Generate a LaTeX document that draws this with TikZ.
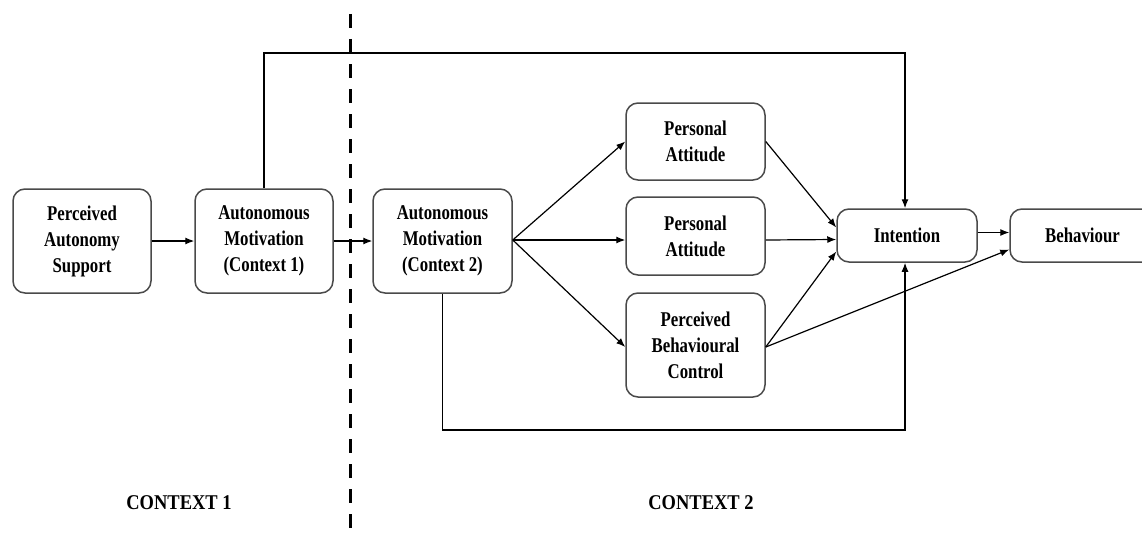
\documentclass[tikz,border=0pt]{standalone}
\usepackage{fontspec}
\usetikzlibrary{arrows.meta,calc}
\newfontfamily\boxfont{Liberation Serif}[FakeStretch=0.8]
\newfontfamily\ctxfont{Liberation Serif}[FakeStretch=0.88]
\definecolor{bordergray}{HTML}{4A4A4A}
\begin{document}
\begin{tikzpicture}[x=1pt,y=-1pt,
  box/.style={draw=bordergray, line width=1.5pt, rounded corners=12pt, align=center,
    font=\boxfont\bfseries\fontsize{21}{26}\selectfont, inner sep=0pt},
  arr/.style={draw=black, line width=1.2pt, -{Latex[length=9pt,width=7pt]}},
  ctx/.style={font=\ctxfont\bfseries\fontsize{21}{26}\selectfont, anchor=base}]
\fill[white] (0,0) rectangle (1142,535);
\useasboundingbox (0,0) rectangle (1142,535);
% divider
\draw[line width=2.6pt, dash pattern=on 14pt off 11pt] (350.7,14) -- (350.7,540);
% nodes
\node[box, minimum width=138pt, minimum height=104pt] (pas) at (82,241) {Perceived\\Autonomy\\Support};
\node[box, minimum width=138pt, minimum height=104pt] (am1) at (264,241) {Autonomous\\Motivation\\(Context 1)};
\node[box, minimum width=139pt, minimum height=104pt] (am2) at (442.5,241) {Autonomous\\Motivation\\(Context 2)};
\node[box, minimum width=139pt, minimum height=77pt] (pa1) at (695.5,141.5) {Personal\\Attitude};
\node[box, minimum width=139pt, minimum height=78pt] (pa2) at (695.5,236) {Personal\\Attitude};
\node[box, minimum width=139pt, minimum height=104pt] (pbc) at (695.5,345) {Perceived\\Behavioural\\Control};
\node[box, minimum width=140pt, minimum height=53pt] (int) at (907,235.5) {Intention};
\node[box, minimum width=145pt, minimum height=53pt] (beh) at (1082.5,235.5) {Behaviour};
% labels
\node[ctx] (c1) at (179,509) {CONTEXT 1};
\node[ctx] (c2) at (701,509) {CONTEXT 2};
% helper coordinates
\coordinate (topy) at (0,53);
\coordinate (boty) at (0,430);
% connectors
\draw[arr] (pas.east) -- (am1.west);
\draw[arr] (am1.east) -- (am2.west);
\draw[arr] ([yshift=1pt]am2.east) -- (pa1.west);
\draw[arr] ([yshift=1pt]am2.east) -- ([yshift=-4pt]pa2.west);
\draw[arr] ([yshift=1pt]am2.east) -- ([yshift=-2pt]pbc.west);
\draw[arr] (pa1.east) -- ([yshift=8pt]int.west);
\draw[arr] ([yshift=-4pt]pa2.east) -- ([yshift=-4pt]int.west);
\draw[arr] ([yshift=-2pt]pbc.east) -- ([yshift=-16pt]int.west);
\draw[arr] ([yshift=-2pt]pbc.east) -- ([yshift=-14pt]beh.west);
\draw[arr] ([yshift=3pt]int.east) -- ([yshift=3pt]beh.west);
\draw[arr] (am1.north) |- ([xshift=-2pt]topy -| int.north) -- ([xshift=-2pt]int.north);
\draw[arr] (am2.south) |- ([xshift=-2pt]boty -| int.south) -- ([xshift=-2pt]int.south);
\end{tikzpicture}
\end{document}
